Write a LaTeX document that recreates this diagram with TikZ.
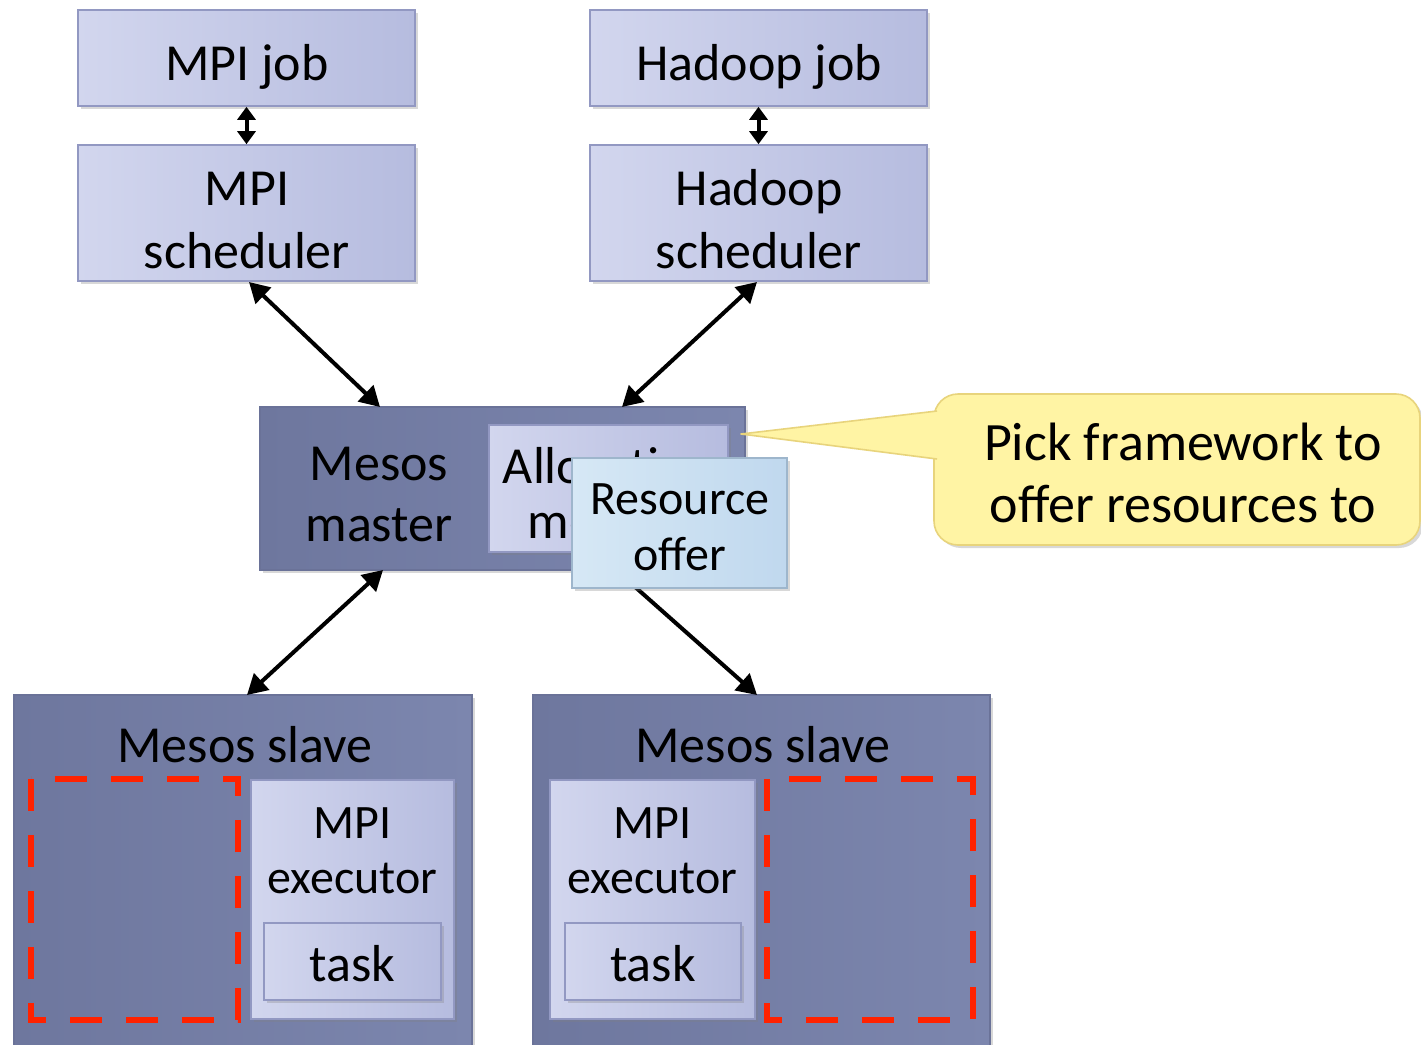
\documentclass[tikz,border=0pt]{standalone}
\usepackage{fontspec}
\setmainfont{Carlito}
\usetikzlibrary{arrows.meta,shadows,calc}
\definecolor{lightL}{HTML}{D2D6EE}
\definecolor{lightR}{HTML}{B6BCDF}
\definecolor{lightB}{HTML}{9298C2}
\definecolor{darkL}{HTML}{6E779E}
\definecolor{darkR}{HTML}{7C86AE}
\definecolor{darkB}{HTML}{6A7298}
\definecolor{offerL}{HTML}{D6E8F5}
\definecolor{offerR}{HTML}{C0D8EE}
\definecolor{offerB}{HTML}{9EB6CC}
\definecolor{calloutF}{HTML}{FFF4A4}
\definecolor{calloutB}{HTML}{E8D47C}
\definecolor{dashred}{HTML}{FF2200}
\begin{document}
\begin{tikzpicture}[x=0.5pt,y=-0.5pt,
  shad/.style={drop shadow={shadow xshift=1.5pt,shadow yshift=-1.5pt,opacity=0.3}},
  box/.style={draw, line width=0.8pt, inner sep=0pt},
  lightbox/.style={box, draw=lightB, left color=lightL, right color=lightR, shad},
  darkbox/.style={box, draw=darkB, left color=darkL, right color=darkR, shad},
  offerbox/.style={box, draw=offerB, left color=offerL, right color=offerR, shad},
  calloutbox/.style={box, draw=calloutB, fill=calloutF, rounded corners=12pt, shad},
  txt/.style={inner sep=0pt, anchor=base, font=\fontsize{26}{30}\selectfont},
  smalltxt/.style={txt, font=\fontsize{24}{28}\selectfont},
  callouttxt/.style={txt, font=\fontsize{27}{31}\selectfont},
  redbox/.style={draw=dashred, line width=3pt, dash pattern=on 16pt off 12pt},
  bigarrow/.style={line width=2pt, {Triangle[length=10pt,width=11pt]}-{Triangle[length=10pt,width=11pt]}},
  onearrow/.style={line width=2pt, -{Triangle[length=10pt,width=11pt]}},
  smallarrow/.style={line width=2pt, {Triangle[length=6.5pt,width=9pt]}-{Triangle[length=6.5pt,width=9pt]}}
]
\clip (0,0) rectangle (1421,1045);
\fill[white] (0,0) rectangle (1421,1045);

% top framework boxes
\node[lightbox, minimum width=168.5pt, minimum height=48pt] (mpijob) at (246.5,58) {};
\node[txt] (mpijobtxt) at (247,80) {MPI job};
\node[lightbox, minimum width=168.5pt, minimum height=68pt] (mpisched) at (246.5,213) {};
\node[txt] (mpischedtxt1) at (247,205) {MPI};
\node[txt] (mpischedtxt2) at (247,268) {scheduler};
\node[lightbox, minimum width=168.5pt, minimum height=48pt] (hadjob) at (758.5,58) {};
\node[txt] (hadjobtxt) at (759,80) {Hadoop job};
\node[lightbox, minimum width=168.5pt, minimum height=68pt] (hadsched) at (758.5,213) {};
\node[txt] (hadschedtxt1) at (759,205) {Hadoop};
\node[txt] (hadschedtxt2) at (759,268) {scheduler};

\draw[smallarrow] (mpijob.south) -- (mpisched.north);
\draw[smallarrow] (hadjob.south) -- (hadsched.north);

% master
\node[darkbox, minimum width=242.5pt, minimum height=81.5pt] (master) at (502.5,488.5) {};
\node[txt] (mastertxt1) at (379,480) {Mesos};
\node[txt] (mastertxt2) at (379,541) {master};
\node[lightbox, minimum width=119.5pt, minimum height=63.5pt] (alloc) at (608.5,488.5) {};
\node[txt] (alloctxt1) at (608.5,483) {Allocation};
\node[txt] (alloctxt2) at (608.5,538) {module};

% slaves
\node[darkbox, minimum width=229pt, minimum height=180pt] (lslave) at (243,875) {};
\node[txt] (lslavetxt) at (245,762) {Mesos slave};
\draw[redbox] (31,779) rectangle (238,1020);
\node[lightbox, minimum width=101.5pt, minimum height=119.5pt] (lexec) at (352.5,899.5) {};
\node[smalltxt] (lexectxt1) at (352.5,838) {MPI};
\node[smalltxt] (lexectxt2) at (352.5,893) {executor};
\node[lightbox, minimum width=88.5pt, minimum height=38.5pt] (ltask) at (352.5,961.5) {};
\node[txt] (ltasktxt) at (352.5,981) {task};

\node[darkbox, minimum width=228.5pt, minimum height=180pt] (rslave) at (761.5,875) {};
\node[txt] (rslavetxt) at (763,762) {Mesos slave};
\draw[redbox] (767,779) rectangle (973,1020);
\node[lightbox, minimum width=102.5pt, minimum height=119.5pt] (rexec) at (652.5,899.5) {};
\node[smalltxt] (rexectxt1) at (652.5,838) {MPI};
\node[smalltxt] (rexectxt2) at (652.5,893) {executor};
\node[lightbox, minimum width=88pt, minimum height=38.5pt] (rtask) at (653,961.5) {};
\node[txt] (rtasktxt) at (653,981) {task};

% connectors
\coordinate (mTopL) at (380,407);
\coordinate (mTopR) at (622,407);
\coordinate (mBotL) at (383,570);
\coordinate (mBotR) at (616,570);
\coordinate (lsTop) at (247,695);
\coordinate (rsTop) at (757,695);
\coordinate (msBot) at (249,282);
\coordinate (hsBot) at (757,282);
\draw[bigarrow] (msBot) -- (mTopL);
\draw[bigarrow] (hsBot) -- (mTopR);
\draw[bigarrow] (mBotL) -- (lsTop);
\draw[onearrow] (mBotR) -- (rsTop);

% resource offer
\node[offerbox, minimum width=107.5pt, minimum height=65pt] (offer) at (679.5,523) {};
\node[smalltxt] (offertxt1) at (680,514) {Resource};
\node[smalltxt] (offertxt2) at (680,570) {offer};

% callout
\node[calloutbox, minimum width=243pt, minimum height=75.5pt] (callout) at (1177,469.5) {};
\node[callouttxt] (callouttxt1) at (1183,460) {Pick framework to};
\node[callouttxt] (callouttxt2) at (1183,522) {offer resources to};
\coordinate (tip) at (741,434);
\coordinate (cA) at (937,411);
\coordinate (cB) at (937,459);
\fill[calloutF] (tip) -- (cA) -- (cB) -- cycle;
\draw[calloutB, line width=0.8pt, line join=round] (cA) -- (tip) -- (cB);
\end{tikzpicture}
\end{document}
